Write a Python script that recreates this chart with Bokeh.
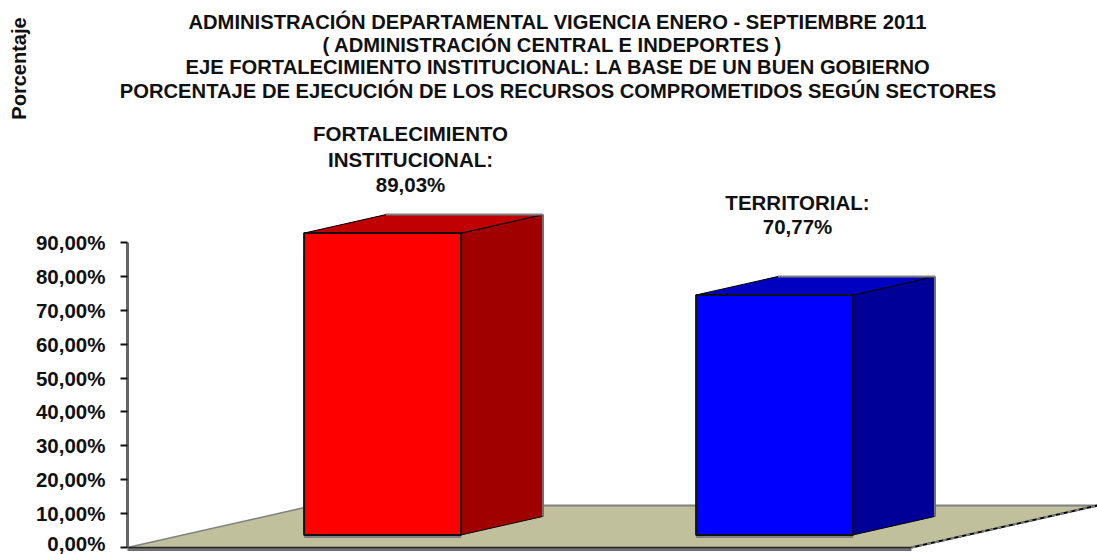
from bokeh.plotting import figure
from bokeh.models import Range1d, FixedTicker
from bokeh.core.properties import value
from bokeh.embed import file_html
from bokeh.resources import INLINE
import math

# ---- data
categories = ["FORTALECIMIENTO\nINSTITUCIONAL:", "TERRITORIAL:"]
percentages = [89.03, 70.77]
value_labels = ["89,03%", "70,77%"]
tick_values = [0, 10, 20, 30, 40, 50, 60, 70, 80, 90]
tick_labels = ["0,00%", "10,00%", "20,00%", "30,00%", "40,00%", "50,00%", "60,00%", "70,00%", "80,00%", "90,00%"]
title_lines = [
    "ADMINISTRACIÓN DEPARTAMENTAL VIGENCIA ENERO - SEPTIEMBRE 2011",
    "( ADMINISTRACIÓN CENTRAL  E  INDEPORTES )",
    "EJE FORTALECIMIENTO INSTITUCIONAL: LA BASE DE UN BUEN GOBIERNO",
    "PORCENTAJE DE EJECUCIÓN DE LOS RECURSOS COMPROMETIDOS SEGÚN SECTORES",
]
y_title = "Porcentaje"

front_colors = ["#FF0000", "#0000FF"]
side_colors = ["#A00000", "#000098"]
top_colors = ["#C00000", "#0000C0"]

# ---- layout
FONT = "Liberation Sans"
AX_L, AX_0, PX_CAT, PX_PCT = 127, 547, 392, 3.39
X = lambda px: (px - AX_L) / PX_CAT
Y = lambda py: (AX_0 - py) / PX_PCT
FLOOR_DX, FLOOR_DY = 186 / PX_CAT, 42 / PX_PCT
BAR_W = 157 / PX_CAT
BAR_SHIFT = 3.3 / PX_CAT
D0, D1 = 0.30, 0.74


def proj(x, y, d):
    return x + d * FLOOR_DX, y + d * FLOOR_DY


p = figure(width=1097, height=554, output_backend="svg", toolbar_location=None,
           x_range=Range1d(X(0), X(1097)), y_range=Range1d(Y(554), Y(0)),
           min_border_left=0, min_border_right=0, min_border_top=0, min_border_bottom=0,
           background_fill_color="white", border_fill_color="white", outline_line_color=None)
p.grid.visible = False
p.xaxis.visible = False

ax = p.yaxis[0]
ax.fixed_location = 0
ax.ticker = FixedTicker(ticks=tick_values)
ax.major_label_overrides = dict(zip(tick_values, tick_labels))
ax.bounds = (0, 90)
ax.axis_line_color = "#666666"
ax.axis_line_width = 3
ax.major_tick_line_color = "#111111"
ax.major_tick_line_width = 2
ax.major_tick_out = 7
ax.major_tick_in = 0
ax.minor_tick_line_color = None
ax.major_label_standoff = 15
ax.major_label_text_font = FONT
ax.major_label_text_font_style = "bold"
ax.major_label_text_font_size = "20.5px"
ax.major_label_text_color = "#111111"

# floor
n_cat = len(categories)
fx = [proj(0, 0, 0)[0], proj(n_cat, 0, 0)[0], proj(n_cat, 0, 1)[0], proj(0, 0, 1)[0]]
fy = [proj(0, 0, 0)[1], proj(n_cat, 0, 0)[1], proj(n_cat, 0, 1)[1], proj(0, 0, 1)[1]]
p.patch(fx, fy, fill_color="#C0C09C", line_color=None)
p.line(fx[2:], fy[2:], line_color="#808080", line_width=2)
p.line([fx[0], fx[3]], [fy[0], fy[3]], line_color="#808080", line_width=1.5)
p.line([fx[1], fx[2]], [fy[1], fy[2]], line_color="#000000", line_width=2)
p.line([fx[1], fx[2]], [fy[1], fy[2]], line_color="#808080", line_width=2, line_dash="4 4")
p.line(fx[:2], [fy[0] - 0.6, fy[1] - 0.6], line_color="#707070", line_width=3)
p.line(fx[:2], [fy[0], fy[1]], line_color="#222222", line_width=1.5)

# bars
for i, v in enumerate(percentages):
    x0 = i + 0.5 - BAR_W / 2 + BAR_SHIFT
    x1 = i + 0.5 + BAR_W / 2 + BAR_SHIFT
    a = proj(x1, 0, D0); b = proj(x1, 0, D1); c = proj(x1, v, D1); d = proj(x1, v, D0)
    p.patch([a[0], b[0], c[0], d[0]], [a[1], b[1], c[1], d[1]], fill_color=side_colors[i],
            line_color="#000000", line_width=1)
    p.line([b[0], c[0]], [b[1], c[1]], line_color="#707070", line_width=2)
    e = proj(x0, v, D0); f = proj(x0, v, D1)
    p.patch([e[0], d[0], c[0], f[0]], [e[1], d[1], c[1], f[1]], fill_color=top_colors[i],
            line_color="#000000", line_width=1)
    p.line([f[0], c[0]], [f[1], c[1]], line_color="#808080", line_width=2)
    g = proj(x0, 0, D0)
    p.line([g[0], a[0]], [g[1] - 0.5, a[1] - 0.5], line_color="#808080", line_width=3)
    p.patch([g[0], a[0], d[0], e[0]], [g[1], a[1], d[1], e[1]], fill_color=front_colors[i],
            line_color="#111111", line_width=2)

# title
title_py = [21, 44, 66, 90]
for line, py in zip(title_lines, title_py):
    p.text([X(557.5)], [Y(py)], text=[line], text_align="center", text_baseline="middle",
           text_font=value(FONT), text_font_style="bold", text_font_size=value("20.2px"),
           text_color="#111111")

# value labels
lab_x = [410, 797]
lab_py = [[133, 159, 184], [202, 226]]
for i, lab in enumerate(categories):
    rows = lab.split("\n") + [value_labels[i]]
    for row, py in zip(rows, lab_py[i]):
        p.text([X(lab_x[i])], [Y(py)], text=[row], text_align="center", text_baseline="middle",
               text_font=value(FONT), text_font_style="bold", text_font_size=value("20.5px"),
               text_color="#111111")

p.text([X(18)], [Y(68)], text=[y_title], angle=math.pi / 2, text_align="center", text_baseline="middle",
       text_font=value(FONT), text_font_style="bold", text_font_size=value("20px"), text_color="#111111")

open("out.html", "w").write(file_html(p, INLINE))
